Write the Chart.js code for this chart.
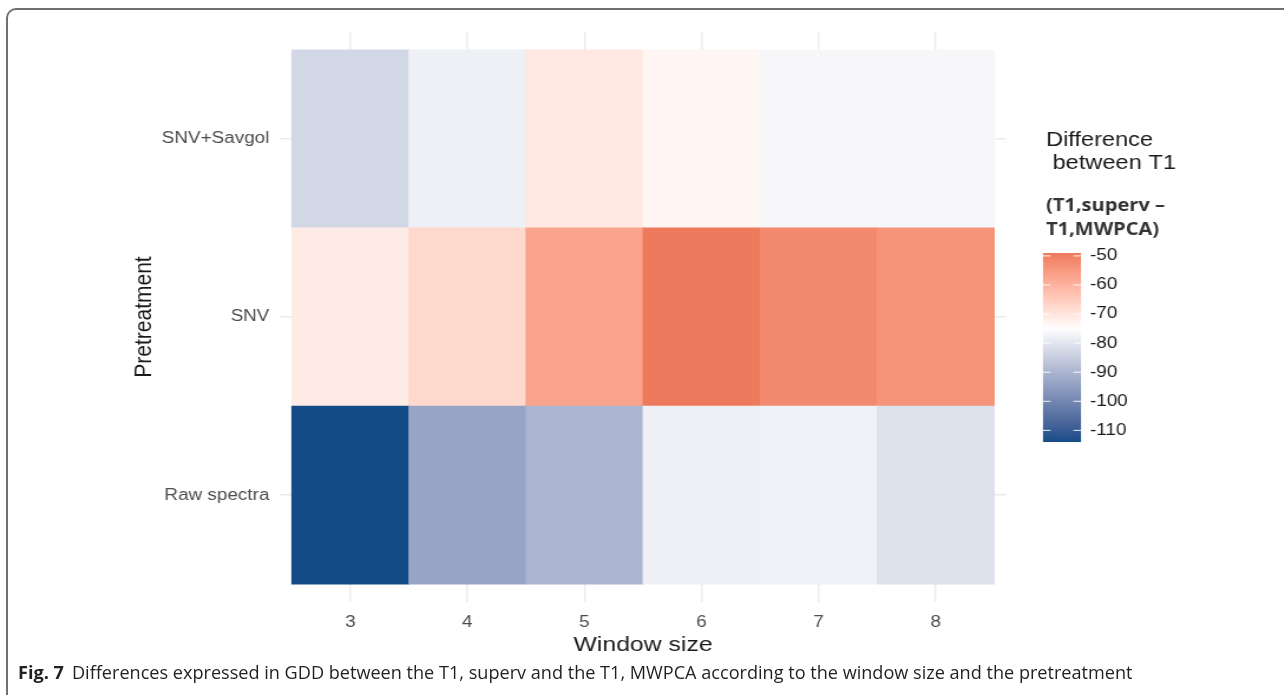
<!DOCTYPE html>
<html lang="en">
<head>
<meta charset="UTF-8">
<title>Fig. 7 heatmap</title>
<script src="https://cdn.jsdelivr.net/npm/chart.js"></script>
<style>
    html, body { margin: 0; padding: 0; background: #fff; overflow: hidden; }
    body { width: 1284px; height: 695px; position: relative; }
    #frame {
        position: absolute; left: 6px; top: 8px; width: 1320px; height: 720px;
        border-top: 2px solid #707070; border-left: 2px solid #707070;
        border-top-left-radius: 10px;
    }
    /* the original figure is stretched sideways, so the chart is drawn narrow and scaled */
    #wrap {
        position: absolute; left: 0; top: 0; width: 1088px; height: 695px;
        transform: scaleX(1.18); transform-origin: 0 0;
    }
    #caption {
        position: absolute; left: 18px; top: 660px; white-space: nowrap;
        font-family: "Open Sans", sans-serif; font-size: 18px; color: #231f20;
        transform-origin: 0 50%;
    }
    #caption b { font-weight: 700; margin-right: 8px; }
</style>
</head>
<body>
<div id="frame"></div>
<div id="wrap"><canvas id="chart"></canvas></div>
<div id="caption"><b>Fig. 7</b>Differences expressed in GDD between the T1, superv and the T1, MWPCA according to the window size and the pretreatment</div>

<script>
    const windowSizes = [3, 4, 5, 6, 7, 8];
    const pretreatments = ['Raw spectra', 'SNV', 'SNV+Savgol'];   // bottom to top
    const rawSpectra = [-114, -93.5, -90, -78, -77.5, -81];
    const snv = [-71, -67.5, -57, -49, -52, -54];
    const snvSavgol = [-83, -78, -70.5, -73, -76.5, -76.5];
    const legendTicks = [-50, -60, -70, -80, -90, -100, -110];

    const S = 1.18;
    function lx(x) { return x / S; }

    const allValues = rawSpectra.concat(snv, snvSavgol);
    const vMin = Math.min(...allValues);
    const vMax = Math.max(...allValues);
    const vMid = -75;

    // colour interpolation in Lab, like ggplot's gradient2
    function toLin(c) { c /= 255; return c <= 0.04045 ? c / 12.92 : Math.pow((c + 0.055) / 1.055, 2.4); }
    function fromLin(c) { c = c <= 0.0031308 ? 12.92 * c : 1.055 * Math.pow(c, 1 / 2.4) - 0.055; return Math.round(Math.max(0, Math.min(1, c)) * 255); }
    function rgbToLab(hex) {
        const r = toLin(parseInt(hex.slice(1, 3), 16)), g = toLin(parseInt(hex.slice(3, 5), 16)), b = toLin(parseInt(hex.slice(5, 7), 16));
        const X = (0.4124 * r + 0.3576 * g + 0.1805 * b) / 0.95047;
        const Y = 0.2126 * r + 0.7152 * g + 0.0722 * b;
        const Z = (0.0193 * r + 0.1192 * g + 0.9505 * b) / 1.08883;
        const f = t => t > 0.008856 ? Math.cbrt(t) : 7.787 * t + 16 / 116;
        return [116 * f(Y) - 16, 500 * (f(X) - f(Y)), 200 * (f(Y) - f(Z))];
    }
    function labToRgb(L, a, b) {
        const fy = (L + 16) / 116, fx = fy + a / 500, fz = fy - b / 200;
        const inv = t => t * t * t > 0.008856 ? t * t * t : (t - 16 / 116) / 7.787;
        const X = 0.95047 * inv(fx), Y = inv(fy), Z = 1.08883 * inv(fz);
        const r = 3.2406 * X - 1.5372 * Y - 0.4986 * Z;
        const g = -0.9689 * X + 1.8758 * Y + 0.0415 * Z;
        const bl = 0.0557 * X - 0.2040 * Y + 1.0570 * Z;
        return 'rgb(' + fromLin(r) + ',' + fromLin(g) + ',' + fromLin(bl) + ')';
    }
    const lowLab = rgbToLab('#134b87'), midLab = rgbToLab('#ffffff'), highLab = rgbToLab('#ee7a5d');

    function colorFor(v) {
        let end, t;
        if (v <= vMid) { end = lowLab; t = (vMid - v) / (vMid - vMin); }
        else { end = highLab; t = (v - vMid) / (vMax - vMid); }
        t = Math.max(0, Math.min(1, t));
        const c = midLab.map((x, i) => x + (end[i] - x) * t);
        return labToRgb(c[0], c[1], c[2]);
    }

    function rowDataset(values, row) {
        return {
            data: windowSizes.map((w, i) => ({ x: w, y: [row - 0.5, row + 0.5] })),
            backgroundColor: values.map(colorFor),
            borderWidth: 0
        };
    }

    const colorBar = {
        id: 'colorBar',
        afterDraw(chart) {
            const ctx = chart.ctx;
            const barL = lx(1043), barR = lx(1081), barT = 253, barB = 442;
            const yFor = v => barT + (vMax - v) / (vMax - vMin) * (barB - barT);

            ctx.save();
            ctx.fillStyle = '#1a1a1a';
            ctx.textBaseline = 'middle';
            ctx.textAlign = 'left';
            ctx.font = '20px "Liberation Sans", Arial, sans-serif';
            ctx.fillText('Difference', lx(1046), 140);
            ctx.fillText(' between T1', lx(1046), 163);
            ctx.fillStyle = '#333';
            ctx.font = 'bold 17px "Open Sans", sans-serif';
            ctx.fillText('(T1,superv \u2013', lx(1046), 206);
            ctx.fillText('T1,MWPCA)', lx(1046), 230);

            const g = ctx.createLinearGradient(0, barT, 0, barB);
            for (let i = 0; i <= 40; i++) {
                const v = vMax - (vMax - vMin) * i / 40;
                g.addColorStop(i / 40, colorFor(v));
            }
            ctx.fillStyle = g;
            ctx.fillRect(barL, barT, barR - barL, barB - barT);

            const tl = (barR - barL) * 0.2;
            ctx.strokeStyle = 'rgba(255,255,255,0.9)';
            ctx.lineWidth = 1;
            ctx.fillStyle = '#1a1a1a';
            ctx.font = '16px "Liberation Sans", Arial, sans-serif';
            legendTicks.forEach(t => {
                const y = yFor(t);
                ctx.beginPath();
                ctx.moveTo(barL, y); ctx.lineTo(barL + tl, y);
                ctx.moveTo(barR - tl, y); ctx.lineTo(barR, y);
                ctx.stroke();
                ctx.fillText(String(t), lx(1090), y);
            });
            ctx.restore();
        }
    };

    new Chart(document.getElementById('chart'), {
        type: 'bar',
        data: {
            datasets: [
                rowDataset(rawSpectra, 1),
                rowDataset(snv, 2),
                rowDataset(snvSavgol, 3)
            ]
        },
        options: {
            responsive: true,
            maintainAspectRatio: false,
            animation: false,
            grouped: false,
            barPercentage: 1,
            categoryPercentage: 1,
            layout: { padding: { left: 110, right: 1088 - lx(1006), top: 32, bottom: 37 } },
            plugins: { legend: { display: false }, tooltip: { enabled: false } },
            scales: {
                x: {
                    type: 'linear',
                    min: 2.4,
                    max: 8.6,
                    offset: false,
                    afterBuildTicks: s => { s.ticks = windowSizes.map(v => ({ value: v })); },
                    afterFit: s => { s.height = 56; },
                    grid: { color: '#ebebeb', lineWidth: 1.4, drawTicks: false, offset: false },
                    border: { display: false },
                    ticks: {
                        padding: 11,
                        color: '#4d4d4d',
                        font: { family: '"Liberation Sans", Arial, sans-serif', size: 16 }
                    },
                    title: {
                        display: true,
                        text: 'Window size',
                        color: '#1a1a1a',
                        padding: 0,
                        font: { family: '"Liberation Sans", Arial, sans-serif', size: 21 }
                    }
                },
                y: {
                    type: 'linear',
                    min: 0.4,
                    max: 3.6,
                    afterBuildTicks: s => { s.ticks = pretreatments.map((p, i) => ({ value: i + 1 })); },
                    afterFit: s => { s.width = lx(280) - 110; },
                    grid: { color: '#ebebeb', lineWidth: 1.6, drawTicks: false },
                    border: { display: false },
                    ticks: {
                        padding: 9,
                        color: '#4d4d4d',
                        font: { family: '"Liberation Sans", Arial, sans-serif', size: 16 },
                        callback: v => pretreatments[v - 1]
                    },
                    title: {
                        display: true,
                        text: 'Pretreatment',
                        color: '#1a1a1a',
                        padding: 0,
                        font: { family: '"Liberation Sans", Arial, sans-serif', size: 21 }
                    }
                }
            }
        },
        plugins: [colorBar]
    });

    // fit the caption to the width it has in the figure
    const cap = document.getElementById('caption');
    cap.style.transform = 'scaleX(' + (1115 / cap.offsetWidth) + ')';
</script>
</body>
</html>
